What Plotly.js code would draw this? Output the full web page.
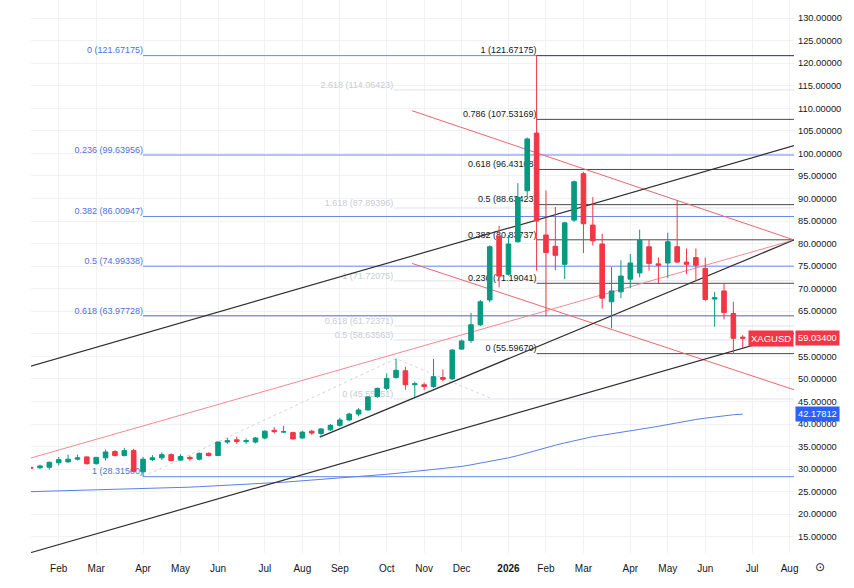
<!DOCTYPE html>
<html>
<head>
<meta charset="utf-8">
<script src="https://cdn.plot.ly/plotly-3.0.1.min.js"></script>
<style>html,body{margin:0;padding:0;background:#fff;}#chart{width:854px;height:588px;}</style>
</head>
<body>
<div id="chart"></div>
<script>
// ---- weekly XAGUSD candles ----
const weekDates = [
 '2025-01-13','2025-01-20','2025-01-27','2025-02-03','2025-02-10','2025-02-17','2025-02-24',
 '2025-03-03','2025-03-10','2025-03-17','2025-03-24','2025-03-31','2025-04-07','2025-04-14',
 '2025-04-21','2025-04-28','2025-05-05','2025-05-12','2025-05-19','2025-05-26','2025-06-02',
 '2025-06-09','2025-06-16','2025-06-23','2025-06-30','2025-07-07','2025-07-14','2025-07-21',
 '2025-07-28','2025-08-04','2025-08-11','2025-08-18','2025-08-25','2025-09-01','2025-09-08',
 '2025-09-15','2025-09-22','2025-09-29','2025-10-06','2025-10-13','2025-10-20','2025-10-27',
 '2025-11-03','2025-11-10','2025-11-17','2025-11-24','2025-12-01','2025-12-08','2025-12-15',
 '2025-12-22','2025-12-29','2026-01-05','2026-01-12','2026-01-19','2026-01-26','2026-02-02',
 '2026-02-09','2026-02-16','2026-02-23','2026-03-02','2026-03-09','2026-03-16','2026-03-23',
 '2026-03-30','2026-04-06','2026-04-13','2026-04-20','2026-04-27','2026-05-04','2026-05-11',
 '2026-05-18','2026-05-25','2026-06-01','2026-06-08','2026-06-15','2026-06-22','2026-06-29'];
const openPrices = [30.4,30.3,30.4,31.4,31.6,32.2,32.7,31.2,32.5,33.9,33.0,34.1,29.4,32.1,32.5,33.2,
 32.0,32.6,32.2,33.5,33.0,36.0,36.5,36.1,36.0,36.9,38.6,38.2,38.1,36.9,38.4,37.9,38.7,39.7,40.9,42.2,
 43.1,46.1,47.9,50.3,51.8,48.7,48.7,48.3,50.3,50.0,56.6,58.5,62.0,67.5,81.6,73.2,80.4,91.7,104.5,81.9,
 79.4,75.4,85.2,95.5,84.1,79.9,67.1,69.3,72.1,73.5,79.3,75.5,75.7,79.3,75.9,76.9,74.5,67.7,69.5,64.5,59.25];
const highPrices = [30.6,31.0,31.7,32.7,33.2,33.2,32.8,32.7,34.3,34.2,34.7,34.5,32.7,33.1,33.7,33.5,
 33.3,33.0,33.7,33.7,36.1,36.9,37.2,36.8,37.1,38.6,39.3,39.6,38.3,38.5,38.7,39.1,40.0,41.4,42.5,43.5,
 46.2,48.1,51.2,54.49,52.7,49.4,49.2,54.4,52.1,56.6,58.7,64.6,67.5,79.6,83.9,81.9,93.4,103.5,121.67175,91.8,
 88.1,84.8,94.0,95.9,90.3,82.2,74.8,76.3,77.7,83.1,80.8,76.9,82.4,89.6,78.9,78.9,76.9,69.3,71.2,67.1,59.7];
const lowPrices = [30.0,30.0,29.9,30.8,31.4,31.9,31.0,31.0,31.9,32.8,32.8,29.3,28.315,31.8,32.0,31.7,
 31.8,31.8,31.9,32.8,32.9,35.6,35.6,35.6,35.7,36.6,37.9,38.0,36.5,36.7,37.6,37.1,38.5,39.4,40.6,41.7,
 43.0,45.8,47.5,50.1,47.6,46.0,47.5,48.0,49.4,49.8,56.4,58.0,61.7,67.0,70.3,72.9,80.2,90.5,74.0,63.9,
 74.1,72.1,84.8,77.9,79.6,65.6,61.2,67.9,70.1,72.5,74.0,71.2,72.3,75.7,73.2,71.7,67.3,61.6,63.2,55.5967,56.8];
const closePrices = [30.2,30.7,31.5,32.1,32.2,32.5,31.2,32.6,33.8,33.0,34.1,29.5,32.2,32.5,33.2,31.9,
 32.8,32.3,33.5,33.0,36.0,36.3,36.1,36.3,36.9,38.4,38.3,38.3,36.7,38.2,38.0,38.9,39.7,40.9,42.2,43.1,
 46.0,47.9,50.1,51.9,48.7,48.9,48.3,50.5,49.9,56.4,58.4,62.0,67.1,79.3,72.8,79.9,90.2,103.2,85.0,78.0,
 77.4,84.6,93.7,84.4,80.6,67.9,69.5,72.8,75.7,80.75,75.6,75.2,80.4,75.9,75.4,75.2,67.6,68.0,64.7,59.0,59.034];
// moving average (blue line)
const maValues = [25.0,25.05,25.1,25.15,25.2,25.25,25.3,25.35,25.4,25.5,25.55,25.6,25.7,25.75,25.8,25.9,
 25.95,26.0,26.1,26.2,26.25,26.35,26.45,26.55,26.65,26.8,26.95,27.1,27.25,27.4,27.55,27.7,27.8,27.95,
 28.1,28.25,28.45,28.65,28.85,29.05,29.25,29.45,29.65,29.85,30.05,30.3,30.6,30.95,31.3,31.7,32.1,32.5,
 33.0,33.6,34.2,34.8,35.3,35.8,36.3,36.8,37.2,37.5,37.8,38.1,38.45,38.8,39.15,39.5,39.9,40.3,40.7,41.0,
 41.3,41.6,41.85,42.05,42.18];

// ---- axis ticks ----
const monthTickDates = ['2025-02-03','2025-03-03','2025-04-07','2025-05-05','2025-06-02','2025-07-07',
 '2025-08-04','2025-09-01','2025-10-06','2025-11-03','2025-12-01','2026-01-05','2026-02-02','2026-03-02',
 '2026-04-06','2026-05-04','2026-06-01','2026-07-06','2026-08-03'];
const monthTickLabels = ['Feb','Mar','Apr','May','Jun','Jul','Aug','Sep','Oct','Nov','Dec','<b>2026</b>',
 'Feb','Mar','Apr','May','Jun','Jul','Aug'];

// ---- Fibonacci drawings ----
const blueFibStart = '2025-04-07';
const blueFibLevels = ['0','0.236','0.382','0.5','0.618','1'];
const blueFibPrices = [121.67175, 99.63956, 86.00947, 74.99338, 63.97728, 28.315];
const blackFibStart = '2026-01-26';
const blackFibLevels = ['1','0.786','0.618','0.5','0.382','0.236','0'];
const blackFibPrices = [121.67175, 107.53169, 96.43108, 88.63423, 80.83737, 71.19041, 55.59670];
const greyFibStart = '2025-10-11';
const greyFibLevels = ['2.618','1.618','1','0.618','0.5','0'];
const greyFibPrices = [114.06423, 87.89396, 71.72075, 61.72371, 58.63563, 45.55051];
const extPathDates = ['2025-04-07','2025-10-13','2025-12-24'];
const extPathPrices = [28.315, 54.49, 45.55051];

// ---- trend lines (time, price endpoints) ----
const blackUpperDates = ['2025-01-13','2026-08-06 07:00']; const blackUpperPrices = [52.8, 101.7];
const blackLowerDates = ['2025-01-13','2026-08-06 07:00']; const blackLowerPrices = [11.48, 60.05];
const blackMidDates   = ['2025-08-17','2026-08-06 07:00']; const blackMidPrices   = [37.1, 80.8];
const redRiseDates    = ['2025-01-13','2026-08-06 07:00']; const redRisePrices    = [32.45, 80.8];
const redTopDates     = ['2025-10-25','2026-08-06 07:00']; const redTopPrices     = [109.45, 80.8];
const redLowDates     = ['2025-10-25','2026-08-06 07:00']; const redLowPrices     = [75.6, 47.6];

const lastPrice = 59.034;
const lastMA = 42.17812;
const symbol = 'XAGUSD';

// ---- build ----
const xRange = ['2025-01-13 07:00','2026-08-06 07:00'];
const yRange = [11.4, 134.0];
const lineEnd = '2026-08-07';
const narrow = "'Liberation Sans Narrow', 'Liberation Sans', Arial, sans-serif";
const regular = "'Liberation Sans', Arial, sans-serif";

const traces = [];
function seg(xs, ys, color, width, dash) {
  traces.push({type:'scatter', mode:'lines', x:xs, y:ys, xaxis:'x', yaxis:'y',
    line:{color:color, width:width, dash:dash||'solid'}, hoverinfo:'skip', showlegend:false});
}
function fibGroup(start, levels, prices, lineColors, textColor) {
  prices.forEach((p, k) => seg([start, lineEnd], [p, p], lineColors[k], 1));
  traces.push({type:'scatter', mode:'text', x:prices.map(() => start), y:prices,
    text:levels.map((l, k) => l + ' (' + prices[k].toFixed(5) + ')'),
    textposition:'top left', textfont:{family:narrow, size:9, color:textColor},
    xaxis:'x', yaxis:'y', hoverinfo:'skip', showlegend:false, cliponaxis:false});
}

// moving average
seg(weekDates, maValues, '#5b7fe6', 1);
// grey extension
seg(extPathDates, extPathPrices, '#d3d6dc', 1, 'dot');
fibGroup(greyFibStart, greyFibLevels, greyFibPrices, greyFibLevels.map(() => '#dfe1e6'), '#c9ccd3');
// blue retracement
fibGroup(blueFibStart, blueFibLevels, blueFibPrices,
  blueFibLevels.map(l => l === '0.618' ? '#55679f' : '#6687ea'), '#4f70d6');
// black retracement
fibGroup(blackFibStart, blackFibLevels, blackFibPrices, blackFibLevels.map(() => '#4a4a4a'), '#131722');
// trend lines
seg(redRiseDates, redRisePrices, '#f08a94', 1);
seg(redTopDates, redTopPrices, '#ea6670', 1);
seg(redLowDates, redLowPrices, '#ea6670', 1);
seg(blackUpperDates, blackUpperPrices, '#2f2f2f', 1.2);
seg(blackLowerDates, blackLowerPrices, '#2f2f2f', 1.2);
seg(blackMidDates, blackMidPrices, '#2f2f2f', 1.2);

// candles on overlay axes (drawn above drawings)
traces.push({type:'candlestick', x:weekDates, open:openPrices, high:highPrices, low:lowPrices, close:closePrices,
  xaxis:'x2', yaxis:'y2', whiskerwidth:0,
  increasing:{line:{color:'#089981', width:1}, fillcolor:'#089981'},
  decreasing:{line:{color:'#f23645', width:1}, fillcolor:'#f23645'},
  hoverinfo:'skip', showlegend:false});

const layout = {
  width:854, height:588,
  margin:{l:31, r:60, t:0, b:35},
  paper_bgcolor:'#ffffff', plot_bgcolor:'#ffffff',
  showlegend:false,
  xaxis:{type:'date', range:xRange, tickmode:'array', tickvals:monthTickDates, ticktext:monthTickLabels,
    showgrid:true, gridcolor:'#f1f2f6', gridwidth:1, zeroline:false, showline:false, ticks:'',
    ticklabelstandoff:8, tickfont:{family:narrow, size:10, color:'#131722'}, rangeslider:{visible:false}, fixedrange:true},
  yaxis:{range:yRange, side:'right', tick0:0, dtick:5, tickformat:'.5f',
    showgrid:true, gridcolor:'#f1f2f6', gridwidth:1, zeroline:false, showline:false, ticks:'',
    ticklabelstandoff:3, tickfont:{family:regular, size:9.3, color:'#131722'}, fixedrange:true},
  xaxis2:{type:'date', range:xRange, overlaying:'x', anchor:'y2', visible:false, showgrid:false,
    rangeslider:{visible:false}, fixedrange:true},
  yaxis2:{range:yRange, overlaying:'y', anchor:'x2', side:'right', visible:false, showgrid:false, fixedrange:true},
  annotations:[
    {xref:'paper', yref:'y', x:1, y:lastPrice, xanchor:'right', yanchor:'middle', text:symbol, showarrow:false,
     bgcolor:'#f23645', borderpad:2, font:{family:narrow, size:9.5, color:'#ffffff'}},
    {xref:'paper', yref:'y', x:1, y:lastPrice, xanchor:'left', yanchor:'middle', xshift:1, text:lastPrice.toFixed(5),
     showarrow:false, bgcolor:'#f23645', borderpad:2, font:{family:regular, size:9.3, color:'#ffffff'}},
    {xref:'paper', yref:'y', x:1, y:lastMA, xanchor:'left', yanchor:'middle', xshift:1, text:lastMA.toFixed(5),
     showarrow:false, bgcolor:'#2962ff', borderpad:2, font:{family:regular, size:9.3, color:'#ffffff'}},
    {xref:'paper', yref:'paper', x:1.034, y:-0.026, xanchor:'center', yanchor:'middle', text:'⊙', showarrow:false,
     font:{family:"'DejaVu Sans', sans-serif", size:12, color:'#131722'}}
  ]
};

Plotly.newPlot('chart', traces, layout, {displayModeBar:false, staticPlot:true});
</script>
</body>
</html>
